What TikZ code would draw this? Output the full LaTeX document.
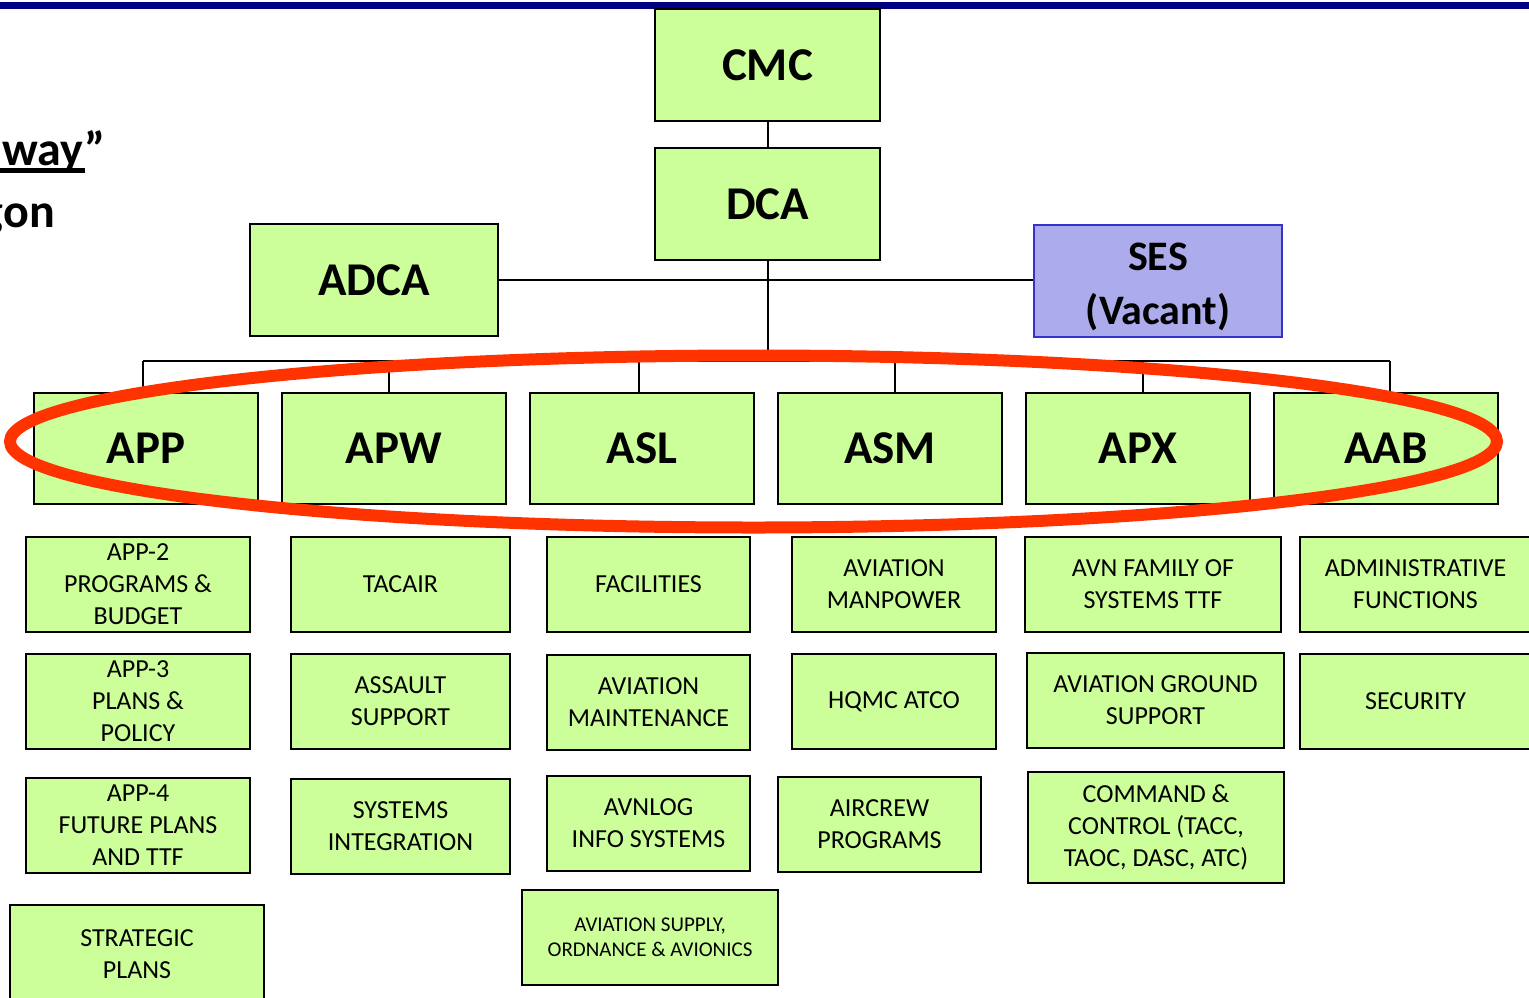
\documentclass[tikz,border=0pt]{standalone}
\usepackage{fontspec}
\setmainfont{Carlito}
\definecolor{boxgreen}{RGB}{204,255,153}
\definecolor{sesfill}{RGB}{172,172,236}
\definecolor{sesline}{RGB}{51,51,204}
\definecolor{barblue}{RGB}{0,0,128}
\definecolor{ringred}{RGB}{255,51,0}
% \orgbox{style}{name}{x1}{y1}{x2}{y2}{text}: a box given by its corners
\newcommand\orgbox[7]{%
  \pgfmathsetmacro\bxcx{(#3+#5)/2}\pgfmathsetmacro\bxcy{(#4+#6)/2}%
  \pgfmathsetmacro\bxw{#5-#3}\pgfmathsetmacro\bxh{#6-#4}%
  \node[#1, minimum width=\bxw pt, minimum height=\bxh pt] (#2) at (\bxcx,\bxcy) {#7};}
\begin{document}
\begin{tikzpicture}[x=1pt,y=-1pt,
  box/.style={draw=black, fill=boxgreen, line width=2pt, inner sep=0pt, align=center, text=black},
  head/.style={box, font=\bfseries\fontsize{47}{50}\selectfont},
  ses/.style={head, fill=sesfill, draw=sesline},
  sestext/.style={inner sep=0pt, align=center, text=black, font=\bfseries\fontsize{42}{54}\selectfont},
  sub/.style={box, font=\fontsize{26}{32}\selectfont},
  small/.style={box, font=\fontsize{21}{25}\selectfont},
  link/.style={draw=black, line width=2pt},
  ring/.style={draw=ringred, line width=12pt},
  slide/.style={inner sep=0pt, font=\bfseries\fontsize{48}{58}\selectfont}]
\useasboundingbox (0,0) rectangle (1529,997);
\clip (0,0) rectangle (1529,997);
\fill[white] (0,0) rectangle (1529,997);

% title rule
\fill[barblue] (0,2) rectangle (1529,8.5);

% slide text running in from the left
\node[slide, anchor=base west] (way) at (2,165) {way”};
\draw[line width=5pt] (0,170) -- (85,170);
\node[slide, anchor=base east] (gon) at (55,227) {gon};

% leadership
\orgbox{head}{CMC}{655}{9}{880}{121}{CMC}
\orgbox{head}{DCA}{655}{148}{880}{260}{DCA}
\orgbox{head}{ADCA}{250}{224}{498}{336}{ADCA}
\orgbox{ses}{SES}{1034}{225}{1282}{337}{}
\node[sestext, yshift=-6pt] (sesname) at (SES.center) {SES\\(Vacant)};

% branches
\orgbox{head}{APP}{34}{393}{258}{504}{APP}
\orgbox{head}{APW}{282}{393}{506}{504}{APW}
\orgbox{head}{ASL}{530}{393}{754}{504}{ASL}
\orgbox{head}{ASM}{778}{393}{1002}{504}{ASM}
\orgbox{head}{APX}{1026}{393}{1250}{504}{APX}
\orgbox{head}{AAB}{1274}{393}{1498}{504}{AAB}

% connectors
\coordinate (d1) at (143,361);
\coordinate (d2) at (389,361);
\coordinate (d3) at (639,361);
\coordinate (d4) at (895,361);
\coordinate (d5) at (1143,361);
\coordinate (d6) at (1390,361);
\coordinate (bus) at (DCA.south |- d1);
\path[link] (CMC.south) -- (DCA.north);
\path[link] (DCA.south) -- (bus);
\path[link] (ADCA.east) -- (ADCA.east -| SES.west);
\path[link] (d1) -- (d6);
\path[link] (d1) -- (d1 |- APP.north);
\path[link] (d2) -- (d2 |- APW.north);
\path[link] (d3) -- (d3 |- ASL.north);
\path[link] (d4) -- (d4 |- ASM.north);
\path[link] (d5) -- (d5 |- APX.north);
\path[link] (d6) -- (d6 |- AAB.north);

% APP column
\orgbox{sub}{app2}{26}{537}{250}{632}{APP-2\\PROGRAMS \&\\BUDGET}
\orgbox{sub}{app3}{26}{654}{250}{749}{APP-3\\PLANS \&\\POLICY}
\orgbox{sub}{app4}{26}{778}{250}{873}{APP-4\\FUTURE PLANS\\AND TTF}
\orgbox{sub}{strat}{10}{905}{264}{1003}{STRATEGIC\\PLANS}
% APW column
\orgbox{sub}{tacair}{291}{537}{510}{632}{TACAIR}
\orgbox{sub}{assault}{291}{654}{510}{749}{ASSAULT\\SUPPORT}
\orgbox{sub}{sysint}{291}{779}{510}{874}{SYSTEMS\\INTEGRATION}
% ASL column
\orgbox{sub}{facil}{547}{537}{750}{632}{FACILITIES}
\orgbox{sub}{avmaint}{547}{655}{750}{750}{AVIATION\\MAINTENANCE}
\orgbox{sub}{avnlog}{547}{776}{750}{871}{AVNLOG\\INFO SYSTEMS}
\orgbox{small}{avsup}{522}{890}{778}{985}{AVIATION SUPPLY,\\ORDNANCE \& AVIONICS}
% ASM column
\orgbox{sub}{manpower}{792}{537}{996}{632}{AVIATION\\MANPOWER}
\orgbox{sub}{atco}{792}{654}{996}{749}{HQMC ATCO}
\orgbox{sub}{aircrew}{778}{777}{981}{872}{AIRCREW\\PROGRAMS}
% APX column
\orgbox{sub}{family}{1025}{537}{1281}{632}{AVN FAMILY OF\\SYSTEMS TTF}
\orgbox{sub}{ground}{1027}{653}{1284}{748}{AVIATION GROUND\\SUPPORT}
\orgbox{sub}{ctrl}{1028}{772}{1284}{883}{COMMAND \&\\CONTROL (TACC,\\TAOC, DASC, ATC)}
% AAB column
\orgbox{sub}{admin}{1300}{537}{1531}{632}{ADMINISTRATIVE\\FUNCTIONS}
\orgbox{sub}{security}{1300}{654}{1531}{749}{SECURITY}

% highlight round the branch row
\draw[ring] (753.5,441.5) ellipse [x radius=743.5, y radius=86];
\end{tikzpicture}
\end{document}
